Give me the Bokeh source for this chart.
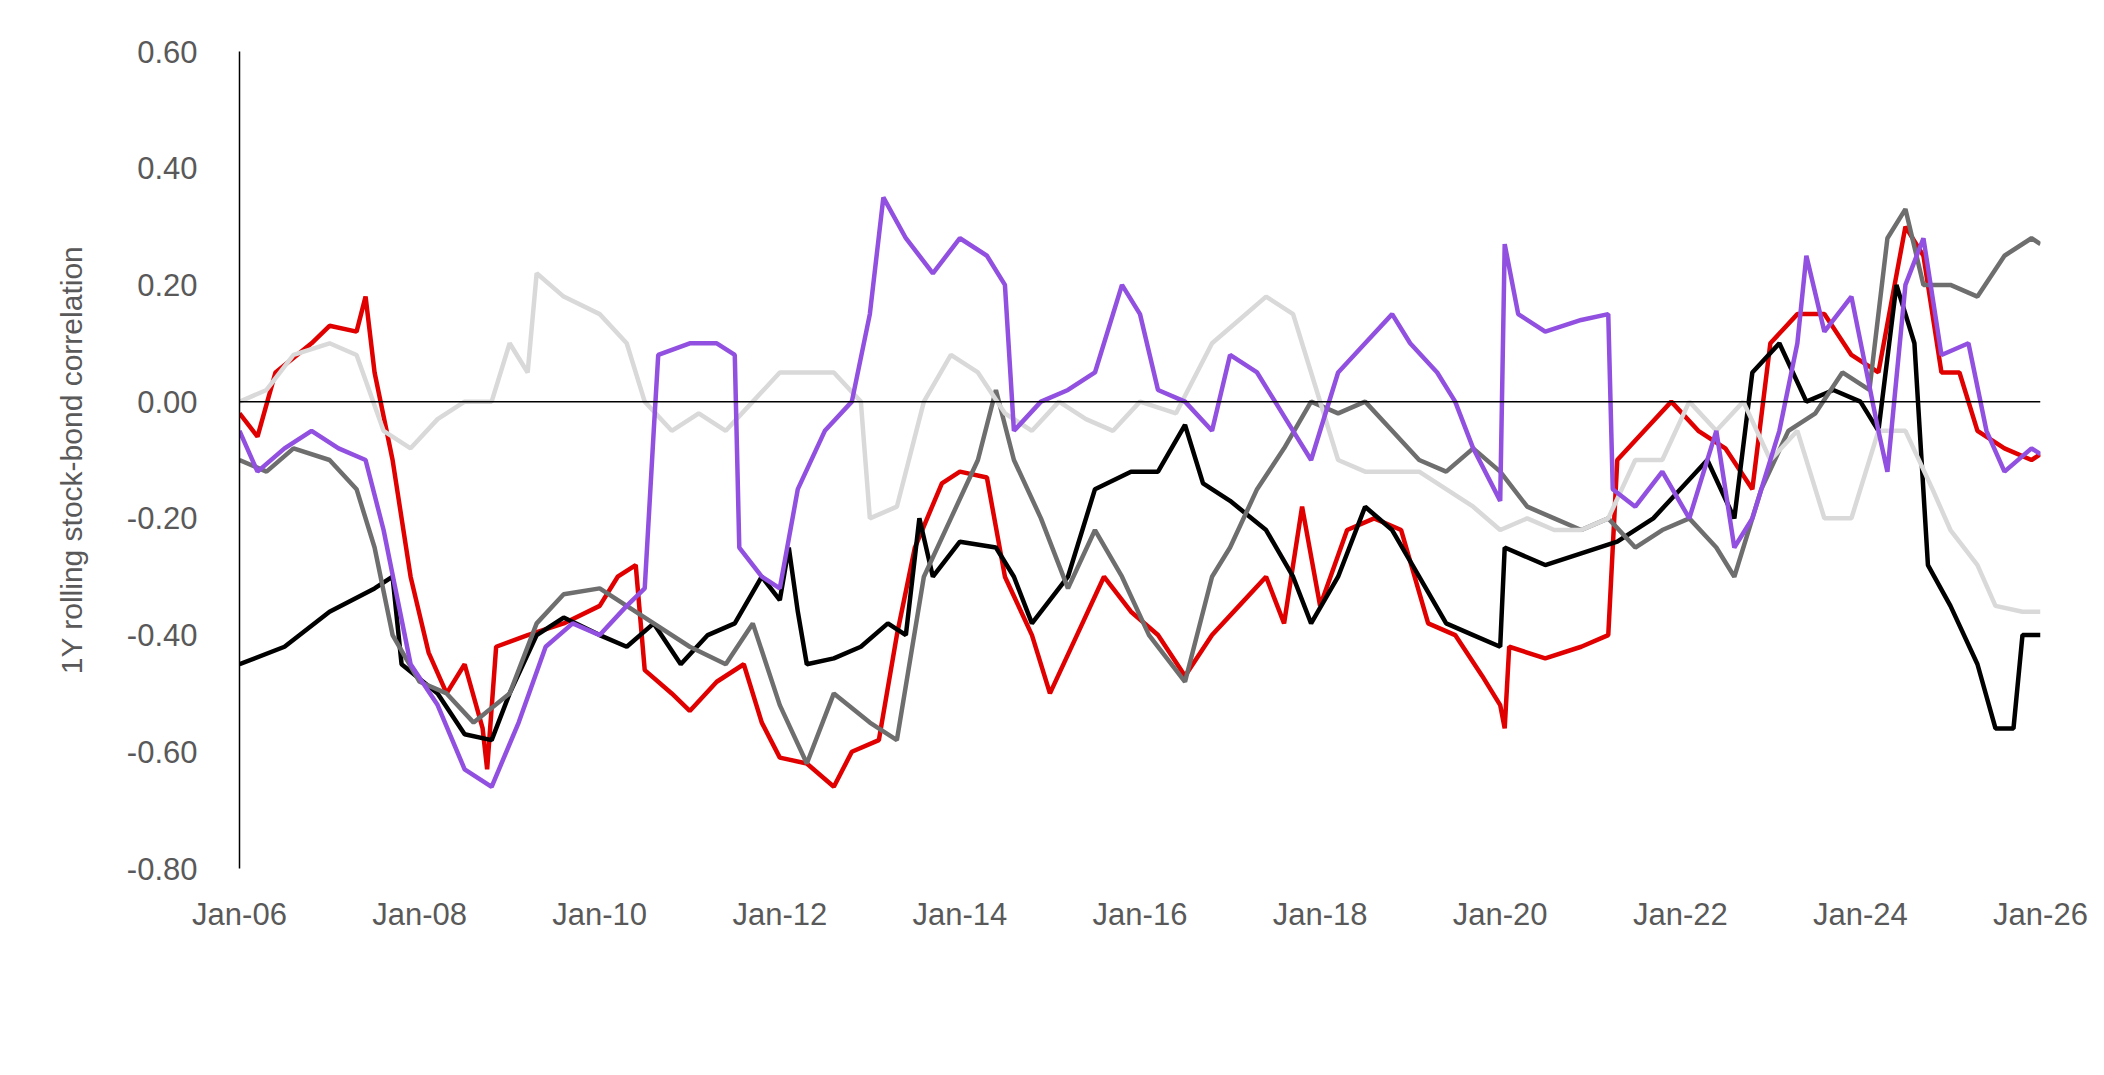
from bokeh.plotting import figure
from bokeh.models import Span, Legend, LegendItem, FixedTicker
from bokeh.embed import file_html
from bokeh.resources import INLINE

us_x = [2006.0,2006.2,2006.4,2006.8,2007.0,2007.3,2007.4,2007.5,2007.7,2007.9,2008.1,2008.3,2008.5,2008.7,2008.75,2008.85,2009.2,2009.6,2010.0,2010.2,2010.4,2010.5,2010.8,2011.0,2011.3,2011.6,2011.8,2012.0,2012.3,2012.6,2012.8,2013.1,2013.3,2013.5,2013.8,2014.0,2014.3,2014.5,2014.8,2015.0,2015.3,2015.6,2015.9,2016.2,2016.5,2016.8,2017.1,2017.4,2017.6,2017.8,2018.0,2018.3,2018.6,2018.9,2019.2,2019.5,2019.8,2020.0,2020.05,2020.1,2020.5,2020.9,2021.2,2021.3,2021.6,2021.9,2022.2,2022.5,2022.8,2023.0,2023.3,2023.6,2023.9,2024.2,2024.5,2024.7,2024.9,2025.1,2025.3,2025.6,2025.9,2026.0]
us_y = [-0.02,-0.06,0.05,0.10,0.13,0.12,0.18,0.05,-0.10,-0.30,-0.43,-0.50,-0.45,-0.56,-0.63,-0.42,-0.40,-0.38,-0.35,-0.30,-0.28,-0.46,-0.50,-0.53,-0.48,-0.45,-0.55,-0.61,-0.62,-0.66,-0.60,-0.58,-0.40,-0.25,-0.14,-0.12,-0.13,-0.30,-0.40,-0.50,-0.40,-0.30,-0.36,-0.40,-0.47,-0.40,-0.35,-0.30,-0.38,-0.18,-0.35,-0.22,-0.20,-0.22,-0.38,-0.40,-0.47,-0.52,-0.56,-0.42,-0.44,-0.42,-0.40,-0.10,-0.05,0.00,-0.05,-0.08,-0.15,0.10,0.15,0.15,0.08,0.05,0.30,0.25,0.05,0.05,-0.05,-0.08,-0.10,-0.09]

jp_x = [2006.0,2006.5,2007.0,2007.5,2007.7,2007.8,2008.2,2008.5,2008.8,2009.0,2009.3,2009.6,2010.0,2010.3,2010.6,2010.9,2011.2,2011.5,2011.8,2012.0,2012.1,2012.2,2012.3,2012.6,2012.9,2013.2,2013.4,2013.55,2013.7,2014.0,2014.4,2014.6,2014.8,2015.2,2015.5,2015.9,2016.2,2016.5,2016.7,2017.0,2017.4,2017.7,2017.9,2018.2,2018.5,2018.8,2019.1,2019.4,2019.7,2020.0,2020.05,2020.5,2020.9,2021.3,2021.7,2022.0,2022.3,2022.6,2022.8,2023.1,2023.4,2023.7,2024.0,2024.2,2024.4,2024.6,2024.75,2025.0,2025.3,2025.5,2025.7,2025.8,2026.0]
jp_y = [-0.45,-0.42,-0.36,-0.32,-0.30,-0.45,-0.50,-0.57,-0.58,-0.50,-0.40,-0.37,-0.40,-0.42,-0.38,-0.45,-0.40,-0.38,-0.30,-0.34,-0.25,-0.36,-0.45,-0.44,-0.42,-0.38,-0.40,-0.20,-0.30,-0.24,-0.25,-0.30,-0.38,-0.30,-0.15,-0.12,-0.12,-0.04,-0.14,-0.17,-0.22,-0.30,-0.38,-0.30,-0.18,-0.22,-0.30,-0.38,-0.40,-0.42,-0.25,-0.28,-0.26,-0.24,-0.20,-0.15,-0.10,-0.20,0.05,0.10,0.00,0.02,0.00,-0.05,0.20,0.10,-0.28,-0.35,-0.45,-0.56,-0.56,-0.40,-0.40]

uk_x = [2006.0,2006.3,2006.6,2007.0,2007.3,2007.5,2007.7,2008.0,2008.3,2008.6,2009.0,2009.3,2009.6,2010.0,2010.3,2010.6,2011.0,2011.4,2011.7,2012.0,2012.3,2012.6,2013.0,2013.3,2013.6,2013.9,2014.2,2014.4,2014.6,2014.9,2015.2,2015.5,2015.8,2016.1,2016.5,2016.8,2017.0,2017.3,2017.6,2017.9,2018.2,2018.5,2018.8,2019.1,2019.4,2019.7,2020.0,2020.3,2020.6,2020.9,2021.2,2021.5,2021.8,2022.1,2022.4,2022.6,2022.9,2023.2,2023.5,2023.8,2024.1,2024.3,2024.5,2024.7,2025.0,2025.3,2025.6,2025.9,2026.0]
uk_y = [-0.10,-0.12,-0.08,-0.10,-0.15,-0.25,-0.40,-0.48,-0.50,-0.55,-0.50,-0.38,-0.33,-0.32,-0.35,-0.38,-0.42,-0.45,-0.38,-0.52,-0.62,-0.50,-0.55,-0.58,-0.30,-0.20,-0.10,0.02,-0.10,-0.20,-0.32,-0.22,-0.30,-0.40,-0.48,-0.30,-0.25,-0.15,-0.08,0.00,-0.02,0.00,-0.05,-0.10,-0.12,-0.08,-0.12,-0.18,-0.20,-0.22,-0.20,-0.25,-0.22,-0.20,-0.25,-0.30,-0.15,-0.05,-0.02,0.05,0.02,0.28,0.33,0.20,0.20,0.18,0.25,0.28,0.27]

cn_x = [2006.0,2006.3,2006.6,2007.0,2007.3,2007.6,2007.9,2008.2,2008.5,2008.8,2009.0,2009.2,2009.3,2009.6,2010.0,2010.3,2010.5,2010.8,2011.1,2011.4,2011.7,2012.0,2012.3,2012.6,2012.9,2013.0,2013.3,2013.6,2013.9,2014.2,2014.5,2014.8,2015.1,2015.4,2015.7,2016.0,2016.4,2016.8,2017.1,2017.4,2017.7,2017.9,2018.2,2018.5,2018.8,2019.1,2019.4,2019.7,2020.0,2020.3,2020.6,2020.9,2021.2,2021.5,2021.8,2022.1,2022.4,2022.7,2023.0,2023.3,2023.6,2023.9,2024.2,2024.5,2024.8,2025.0,2025.3,2025.5,2025.8,2026.0]
cn_y = [0.00,0.02,0.08,0.10,0.08,-0.05,-0.08,-0.03,0.00,0.00,0.10,0.05,0.22,0.18,0.15,0.10,0.00,-0.05,-0.02,-0.05,0.00,0.05,0.05,0.05,0.00,-0.20,-0.18,0.00,0.08,0.05,-0.02,-0.05,0.00,-0.03,-0.05,0.00,-0.02,0.10,0.14,0.18,0.15,0.05,-0.10,-0.12,-0.12,-0.12,-0.15,-0.18,-0.22,-0.20,-0.22,-0.22,-0.20,-0.10,-0.10,0.00,-0.05,0.00,-0.10,-0.05,-0.20,-0.20,-0.05,-0.05,-0.15,-0.22,-0.28,-0.35,-0.36,-0.36]

ez_x = [2006.0,2006.2,2006.5,2006.8,2007.1,2007.4,2007.6,2007.9,2008.2,2008.5,2008.8,2009.1,2009.4,2009.7,2010.0,2010.3,2010.5,2010.6,2010.65,2011.0,2011.3,2011.5,2011.55,2011.8,2012.0,2012.2,2012.5,2012.8,2013.0,2013.15,2013.4,2013.7,2014.0,2014.3,2014.5,2014.6,2014.9,2015.2,2015.5,2015.8,2016.0,2016.2,2016.5,2016.8,2017.0,2017.3,2017.5,2017.7,2017.9,2018.2,2018.5,2018.8,2019.0,2019.3,2019.5,2019.7,2020.0,2020.05,2020.2,2020.5,2020.9,2021.2,2021.25,2021.5,2021.8,2022.1,2022.4,2022.6,2022.8,2023.1,2023.3,2023.4,2023.6,2023.9,2024.2,2024.3,2024.5,2024.7,2024.9,2025.2,2025.4,2025.6,2025.9,2026.0]
ez_y = [-0.05,-0.12,-0.08,-0.05,-0.08,-0.10,-0.22,-0.45,-0.52,-0.63,-0.66,-0.55,-0.42,-0.38,-0.40,-0.35,-0.32,-0.05,0.08,0.10,0.10,0.08,-0.25,-0.30,-0.32,-0.15,-0.05,0.00,0.15,0.35,0.28,0.22,0.28,0.25,0.20,-0.05,0.00,0.02,0.05,0.20,0.15,0.02,0.00,-0.05,0.08,0.05,0.00,-0.05,-0.10,0.05,0.10,0.15,0.10,0.05,0.00,-0.08,-0.17,0.27,0.15,0.12,0.14,0.15,-0.15,-0.18,-0.12,-0.20,-0.05,-0.25,-0.20,-0.05,0.10,0.25,0.12,0.18,-0.05,-0.12,0.20,0.28,0.08,0.10,-0.05,-0.12,-0.08,-0.09]

series = [("US", us_x, us_y, "#e00000"), ("Japan", jp_x, jp_y, "#000000"),
          ("UK", uk_x, uk_y, "#6e6e6e"), ("China", cn_x, cn_y, "#d9d9d9"),
          ("Eurozone", ez_x, ez_y, "#9150e0")]
x_ticks = list(range(2006, 2027, 2))
x_labels = ["Jan-%02d" % (t % 100) for t in x_ticks]
y_ticks = [-0.8, -0.6, -0.4, -0.2, 0.0, 0.2, 0.4, 0.6]

FONT = "Liberation Sans"
p = figure(frame_width=1801, frame_height=817, x_range=(2006, 2026), y_range=(-0.8, 0.6),
           output_backend="svg", toolbar_location=None,
           min_border_left=239, min_border_right=48, min_border_top=51, min_border_bottom=0)
p.outline_line_color = None
p.grid.visible = False
p.background_fill_color = "white"

p.add_layout(Span(location=0, dimension="width", line_color="black", line_width=1.5))

items = []
for name, xs, ys, c in series:
    r = p.line(xs, ys, line_color=c, line_width=4.5)
    items.append(LegendItem(label=name, renderers=[r]))

p.xaxis.ticker = FixedTicker(ticks=x_ticks)
p.xaxis.major_label_overrides = {t: l for t, l in zip(x_ticks, x_labels)}
p.xaxis.axis_line_color = None
p.yaxis.ticker = FixedTicker(ticks=y_ticks)
p.yaxis.major_label_overrides = {t: "%.2f" % t for t in y_ticks}
p.yaxis.axis_line_color = "black"
p.yaxis.axis_line_width = 1.5
for ax in (p.xaxis, p.yaxis):
    ax.major_tick_line_color = None
    ax.minor_tick_line_color = None
    ax.major_label_text_font = FONT
    ax.major_label_text_font_size = "31px"
    ax.major_label_text_color = "#595959"
p.xaxis.major_label_standoff = 22
p.yaxis.major_label_standoff = 36
p.yaxis.axis_label = "1Y rolling stock-bond correlation"
p.yaxis.axis_label_text_font = FONT
p.yaxis.axis_label_text_font_style = "normal"
p.yaxis.axis_label_text_font_size = "30px"
p.yaxis.axis_label_text_color = "#595959"
p.yaxis.axis_label_standoff = 36

leg = Legend(items=items, orientation="horizontal", location="center",
             label_text_font=FONT, label_text_font_size="31px", label_text_color="#595959",
             glyph_width=90, spacing=40, border_line_color=None, margin=40, label_standoff=6)
p.add_layout(leg, "below")

open("out.html", "w").write(file_html(p, INLINE))
